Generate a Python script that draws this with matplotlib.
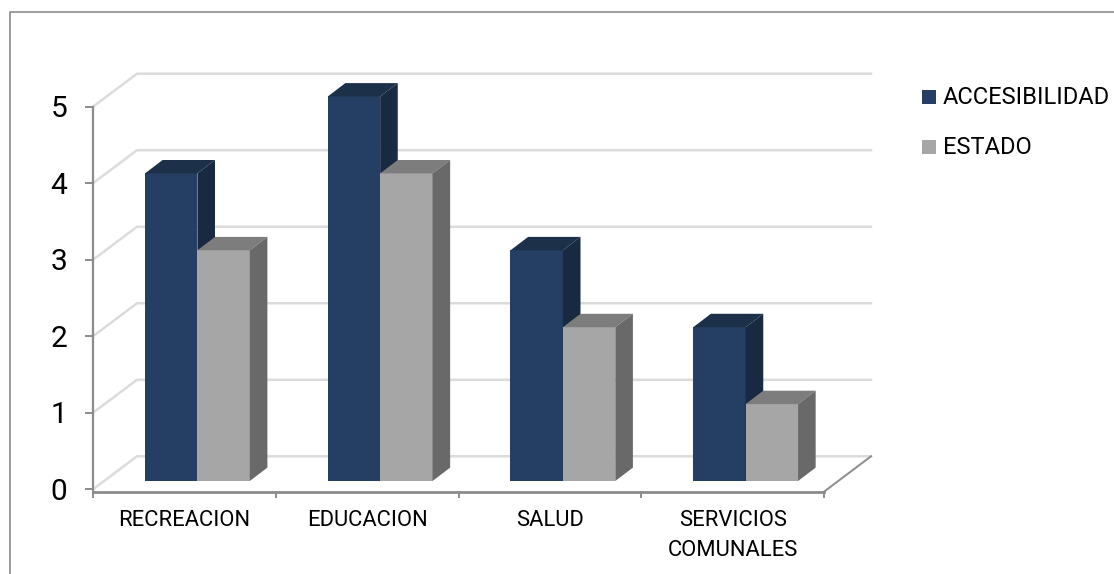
import matplotlib
matplotlib.use('Agg')
import matplotlib.pyplot as plt
from matplotlib.patches import Polygon, Rectangle
from matplotlib.lines import Line2D

categorias = ['RECREACION', 'EDUCACION', 'SALUD', 'SERVICIOS\nCOMUNALES']
accesibilidad = [4, 5, 3, 2]
estado = [3, 4, 2, 1]
yticks = [0, 1, 2, 3, 4, 5]

W, H = 1114, 574
plt.rcParams['font.family'] = ['Roboto', 'Liberation Sans']

fig = plt.figure(figsize=(W / 100, H / 100), dpi=100)

# marco del grafico, solo se ven izquierda y arriba
fig.add_artist(Line2D([9.5 / W, 9.5 / W, 1], [0, 1 - 11.5 / H, 1 - 11.5 / H], color='#8c8c8c', lw=1.2))

# los ejes son el plano frontal de la caja 3d
x0, x1 = 93, 824
ybot, ytop = 489.3, 106.7
ax = fig.add_axes([x0 / W, 1 - ybot / H, (x1 - x0) / W, (ybot - ytop) / H])
ax.set_xlim(0, 4)
ax.set_ylim(0, 5)
ax.axis('off')

ux = (x1 - x0) / 4
uy = (ybot - ytop) / 5

# pared del fondo
bx, by = 44 / ux, 33 / uy
bx2 = 47 / ux
eje = -2.4 / uy
for v in yticks:
    ax.plot([0, bx, 4 + bx2], [v, v + by, v + by], color='#dcdcdc', lw=1.8, clip_on=False, zorder=1)
ax.plot([4, 4 + bx2], [eje, by], color='#8c8c8c', lw=1.4, clip_on=False, zorder=1)
ax.plot([0, 4], [eje, eje], color='#8c8c8c', lw=2, clip_on=False, zorder=2)
ax.plot([0, 0], [eje, 5], color='#8c8c8c', lw=1.6, clip_on=False, zorder=2)

for v in yticks:
    ax.plot([-7 / ux, 0], [v, v], color='#8c8c8c', lw=1.4, clip_on=False, zorder=2)
    ax.text(-34 / ux, v - 2.5 / uy, str(v), ha='center', va='center', fontsize=21.5, color='black')
for i in range(5):
    ax.plot([i, i], [eje, -7.5 / uy], color='#8c8c8c', lw=1.4, clip_on=False, zorder=2)

# barras
ancho = 52.4 / ux
base = 8.3 / uy
dx, dy = 17.6 / ux, 13.4 / uy
margen = 52 / ux
escala = 76.9 / uy


def barra(x, v, front, top, side):
    y = base + v * escala
    ax.add_patch(Rectangle((x, base), ancho, y - base, facecolor=front, edgecolor='none', clip_on=False, zorder=3))
    ax.add_patch(Polygon([(x, y), (x + dx, y + dy), (x + ancho + dx, y + dy), (x + ancho, y)],
                         facecolor=top, edgecolor='none', clip_on=False, zorder=3))
    ax.add_patch(Polygon([(x + ancho, base), (x + ancho + dx, base + dy), (x + ancho + dx, y + dy), (x + ancho, y)],
                         facecolor=side, edgecolor='none', clip_on=False, zorder=3))


for i in range(4):
    xa = i + margen
    barra(xa, accesibilidad[i], '#243f63', '#1d3049', '#172a41')
    barra(xa + ancho, estado[i], '#a6a6a6', '#7d7d7d', '#696969')

for i, c in enumerate(categorias):
    ax.text(i + 0.5, -20.5 / uy, c, ha='center', va='top', fontsize=15.8, color='black', linespacing=1.55, clip_on=False)

# leyenda
for yp, col, txt in [(97, '#243f63', 'ACCESIBILIDAD'), (147, '#a6a6a6', 'ESTADO')]:
    fig.add_artist(Rectangle((922 / W, 1 - (yp + 7) / H), 14 / W, 14 / H, facecolor=col, edgecolor='none', transform=fig.transFigure))
    fig.text(943 / W, 1 - yp / H, txt, ha='left', va='center', fontsize=17, color='black')

fig.savefig('out.png', dpi=100, facecolor='white')
